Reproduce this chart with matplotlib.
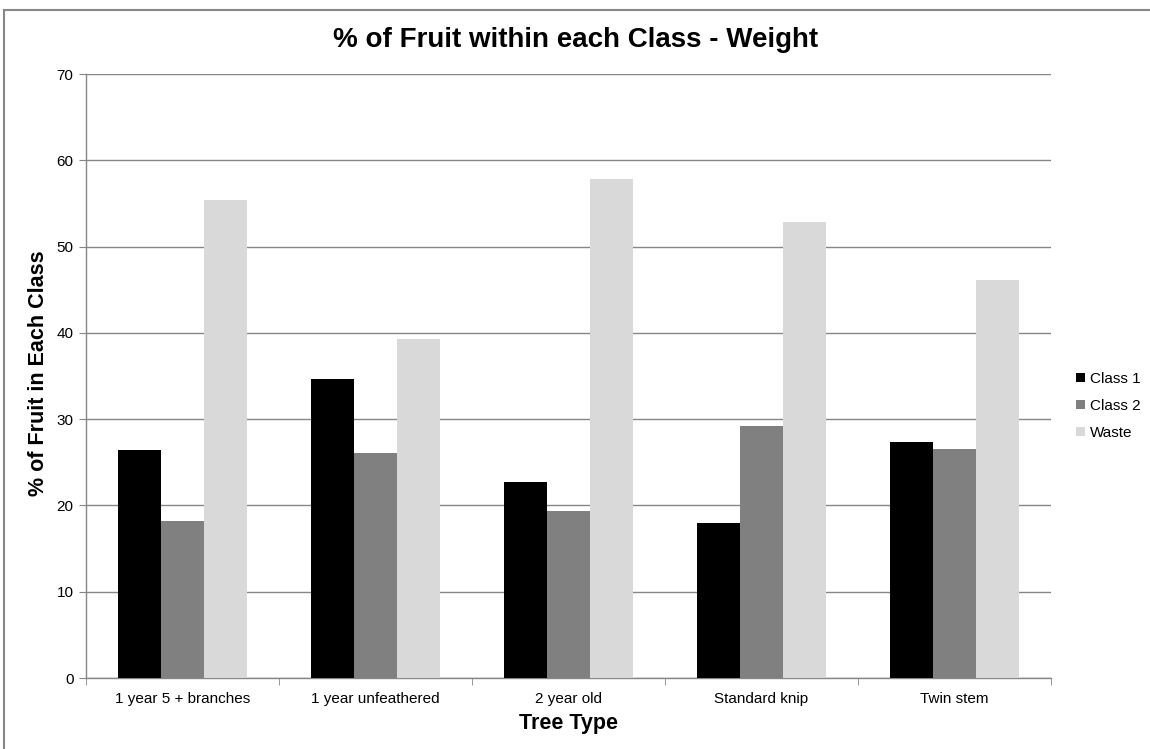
import matplotlib
matplotlib.use("Agg")
import matplotlib.pyplot as plt
import numpy as np
from matplotlib.lines import Line2D

plt.rcParams['font.family'] = ['Liberation Sans', 'DejaVu Sans']

categories = ["1 year 5 + branches", "1 year unfeathered", "2 year old", "Standard knip", "Twin stem"]
class1 = [26.4, 34.7, 22.7, 18.0, 27.4]
class2 = [18.2, 26.1, 19.3, 29.2, 26.5]
waste = [55.4, 39.3, 57.8, 52.9, 46.1]
series_names = ["Class 1", "Class 2", "Waste"]
series_colors = ["#000000", "#808080", "#D9D9D9"]

W, H = 1150, 749
fig = plt.figure(figsize=(W / 100, H / 100), dpi=100)
ax = fig.add_axes([86 / W, 1 - 678 / H, (1051 - 86) / W, (678 - 74) / H])

x = np.arange(len(categories))
bw = 1 / 4.5
for i, (vals, name, col) in enumerate(zip([class1, class2, waste], series_names, series_colors)):
    ax.bar(x + (i - 1) * bw, vals, width=bw, color=col, label=name, zorder=3)

ax.set_xlim(-0.5, len(categories) - 0.5)
ax.set_ylim(0, 70)
ax.set_yticks(range(0, 71, 10))
ax.yaxis.grid(True, color="#868686", linewidth=1.0, zorder=0)
ax.set_axisbelow(True)

ax.set_xticks(x)
ax.set_xticklabels(categories, fontsize=11)
ax.set_xticks(np.arange(-0.5, len(categories), 1), minor=True)
ax.tick_params(axis="x", which="major", length=0, pad=10)
ax.tick_params(axis="x", which="minor", length=5, color="#868686")
ax.tick_params(axis="y", length=5, color="#868686", labelsize=11, pad=4)

for s in ["top", "right"]:
    ax.spines[s].set_visible(False)
for s in ["left", "bottom"]:
    ax.spines[s].set_color("#868686")
    ax.spines[s].set_linewidth(1.0)

ax.set_xlabel("Tree Type", fontsize=15.5, fontweight="bold", labelpad=5)
ax.set_ylabel("% of Fruit in Each Class", fontsize=15.5, fontweight="bold")
ax.yaxis.set_label_coords(49 / W, 1 - 373 / H, transform=fig.transFigure)
fig.text(576 / W, 1 - 40 / H, "% of Fruit within each Class - Weight", fontsize=20,
         fontweight="bold", ha="center", va="center")

leg = ax.legend(loc="center left", bbox_to_anchor=(1062 / W, 1 - 406 / H),
                bbox_transform=fig.transFigure, frameon=False, fontsize=11,
                handlelength=0.6, handleheight=0.6, handletextpad=0.3, labelspacing=0.85)

fig.add_artist(Line2D([4 / W, 1], [1 - 9.5 / H, 1 - 9.5 / H], transform=fig.transFigure,
                      color="#888888", linewidth=1.5))
fig.add_artist(Line2D([4 / W, 4 / W], [0, 1 - 9.5 / H], transform=fig.transFigure,
                      color="#888888", linewidth=1.5))

fig.savefig("out.png", dpi=100)
